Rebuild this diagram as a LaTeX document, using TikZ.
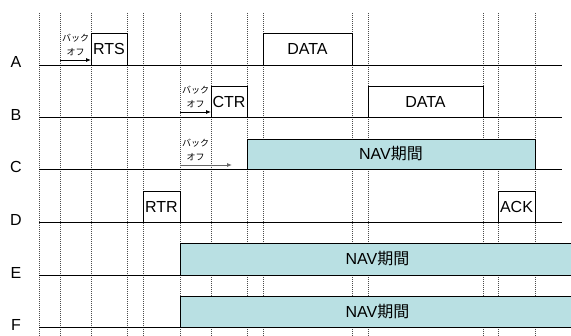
\documentclass[tikz,border=0pt]{standalone}
\usepackage{fontspec}
\setmainfont{Liberation Sans}
\newfontfamily\jp{Noto Sans CJK JP}
\usetikzlibrary{arrows.meta}
\definecolor{navfill}{RGB}{185,224,227}
\begin{document}
\begin{tikzpicture}[x=1pt,y=-1pt,
  vline/.style={draw=black!70,line width=0.6pt,dash pattern=on 1pt off 1pt},
  hline/.style={draw=black,line width=0.9pt},
  lbl/.style={font=\fontsize{16}{19}\selectfont,inner sep=0pt},
  pkt/.style={draw=black,line width=0.8pt,inner sep=0pt,font=\fontsize{16}{19}\selectfont},
  nav/.style={pkt,fill=navfill},
  boff/.style={font=\jp\fontsize{9}{14}\selectfont,align=center,inner sep=0pt},
  barr/.style={-{Latex[length=5pt,width=4pt]},line width=0.8pt}
]
\useasboundingbox (0,0) rectangle (571,336);
% vertical dashed grid
\foreach \x in {39,60,91,127,143,180,211,247,263,352,368,483,498,535}
  \draw[vline] (\x,13) -- (\x,336);
% station labels
\node[lbl] (lA) at (16,62) {A};
\node[lbl] (lB) at (16,115) {B};
\node[lbl] (lC) at (16,167) {C};
\node[lbl] (lD) at (16,220) {D};
\node[lbl] (lE) at (16,273) {E};
\node[lbl] (lF) at (16,325) {F};
% packets
\node[pkt,minimum width=36pt,minimum height=32pt] (rts) at (109,49) {RTS};
\node[pkt,minimum width=89pt,minimum height=32pt] (dataA) at (307.5,49) {DATA};
\node[pkt,minimum width=36pt,minimum height=31pt] (ctr) at (229,101.5) {CTR};
\node[pkt,minimum width=115pt,minimum height=31pt] (dataB) at (425.5,101.5) {DATA};
\node[nav,minimum width=288pt,minimum height=30pt] (navC) at (391,154) {NAV{\jp 期間}};
\node[pkt,minimum width=37pt,minimum height=31pt] (rtr) at (161.5,206.5) {RTR};
\node[pkt,minimum width=37pt,minimum height=31pt] (ack) at (516.5,206.5) {ACK};
\node[nav,minimum width=395pt,minimum height=32pt] (navE) at (377.5,259) {NAV{\jp 期間}};
\node[nav,minimum width=395pt,minimum height=31pt] (navF) at (377.5,311.5) {NAV{\jp 期間}};
% time lines
\draw[hline] (39,65) -- (562,65);
\draw[hline] (39,117) -- (562,117);
\draw[hline] (39,169) -- (562,169);
\draw[hline] (39,222) -- (562,222);
\draw[hline] (39,275) -- (573,275);
\draw[hline] (39,327) -- (573,327);
% backoff
\coordinate (bA0) at (60,60);
\coordinate (bA1) at (91,60);
\draw[barr] (bA0) -- (bA1);
\node[boff] (tA) at (75.5,45) {バック\\オフ};
\coordinate (bB0) at (180,112);
\coordinate (bB1) at (211,112);
\draw[barr] (bB0) -- (bB1);
\node[boff] (tB) at (195.5,97) {バック\\オフ};
\coordinate (bC0) at (180,165);
\coordinate (bC1) at (232,165);
\draw[barr,draw=black!60] (bC0) -- (bC1);
\node[boff] (tC) at (195.5,150) {バック\\オフ};
\end{tikzpicture}
\end{document}
